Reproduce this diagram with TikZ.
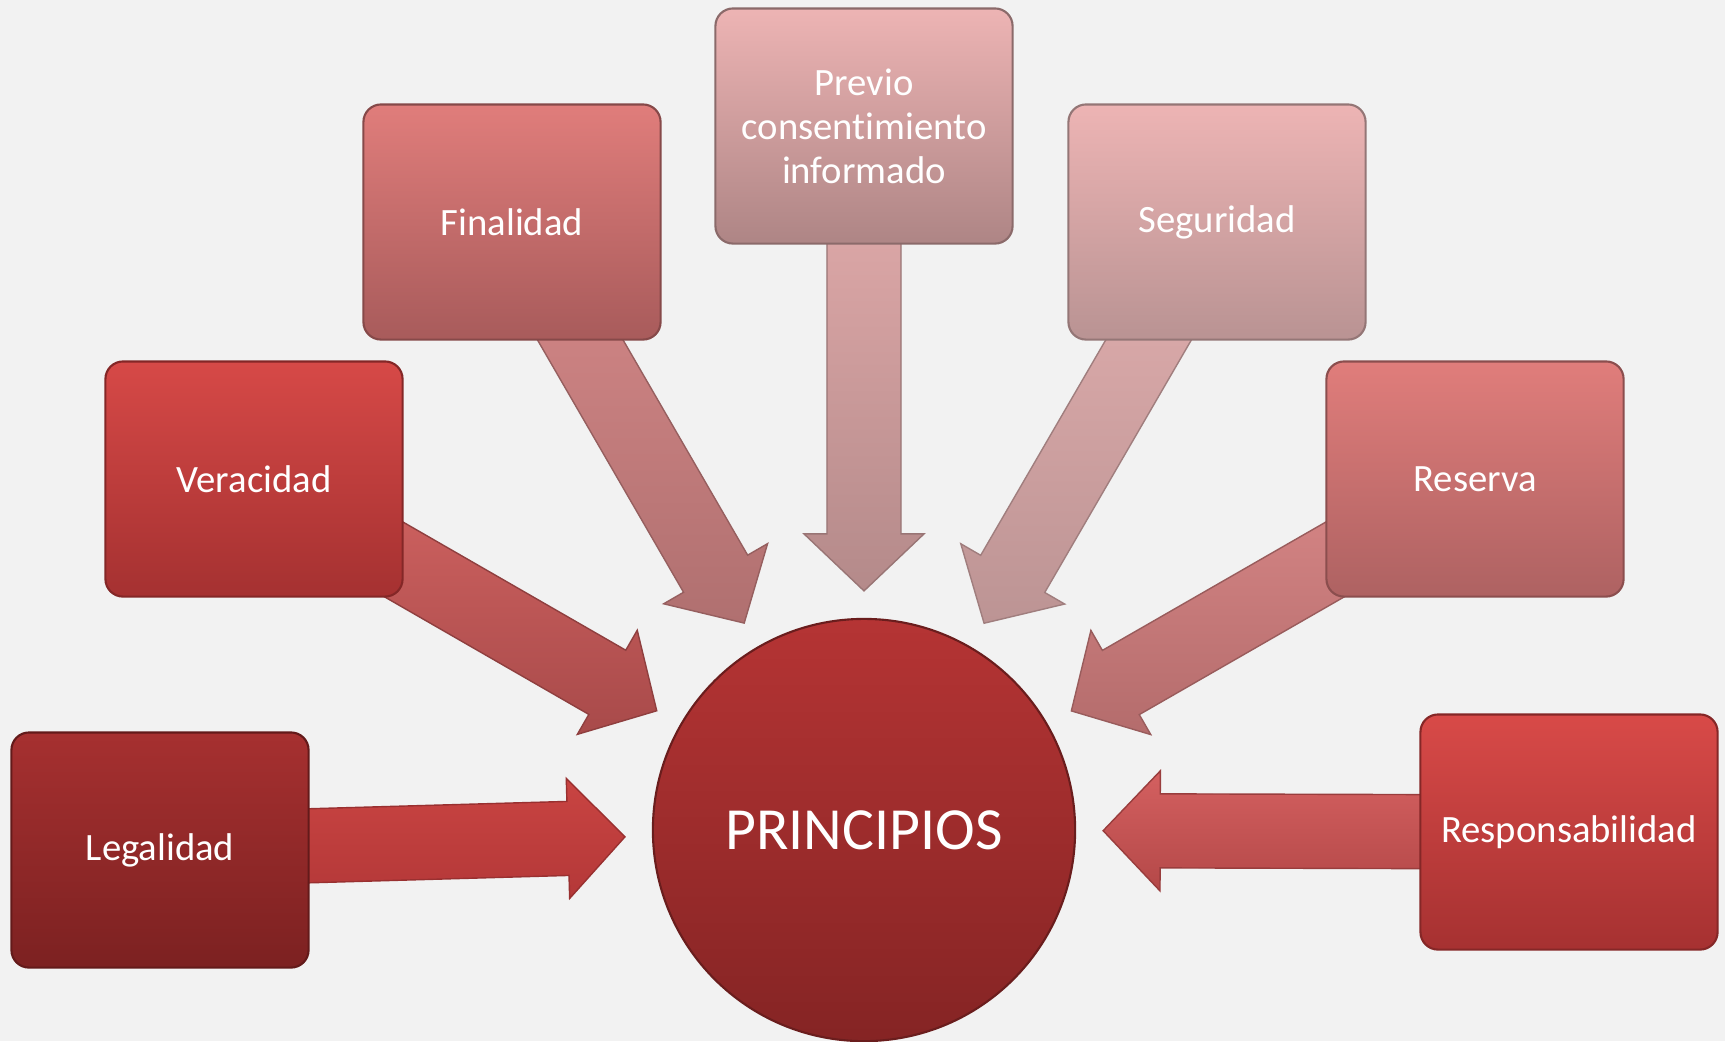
\documentclass[tikz,border=0pt]{standalone}
\usepackage{fontspec}
\setmainfont{Carlito}[Ligatures={NoCommon,NoContextual}]
\usepackage{tikz}
\usetikzlibrary{shapes,calc,backgrounds}
\usepackage{xcolor}
\definecolor{bggrey}{RGB}{242,242,242}
\definecolor{hubtop}{HTML}{B53434}
\definecolor{hubbot}{HTML}{852424}
% boxes
\definecolor{legtop}{HTML}{A63030}
\definecolor{legbot}{HTML}{7C2121}
\definecolor{vertop}{HTML}{D64947}
\definecolor{verbot}{HTML}{A53131}
\definecolor{fintop}{HTML}{E07D7B}
\definecolor{finbot}{HTML}{A85B5B}
\definecolor{prevtop}{HTML}{EDB4B4}
\definecolor{prevbot}{HTML}{AE8585}
\definecolor{segtop}{HTML}{EDB4B4}
\definecolor{segbot}{HTML}{B99393}
\definecolor{restop}{HTML}{E07D7B}
\definecolor{resbot}{HTML}{AE6262}
\definecolor{resptop}{HTML}{D84A48}
\definecolor{respbot}{HTML}{A63131}
% arrows
\definecolor{legatop}{HTML}{C94442}
\definecolor{legabot}{HTML}{B43838}
\definecolor{veratop}{HTML}{D66664}
\definecolor{verabot}{HTML}{A84A4A}
\definecolor{finatop}{HTML}{D88A8A}
\definecolor{finabot}{HTML}{B07070}
\definecolor{prevatop}{HTML}{E6AEAE}
\definecolor{prevabot}{HTML}{B48A8A}
\definecolor{segatop}{HTML}{E4B0B0}
\definecolor{segabot}{HTML}{BC9494}
\definecolor{resatop}{HTML}{DC8A8A}
\definecolor{resabot}{HTML}{B46C6C}
\definecolor{respatop}{HTML}{D46060}
\definecolor{respabot}{HTML}{B44848}

\begin{document}
\begin{tikzpicture}[x=0.01cm, y=-0.01cm,
    pbox/.style 2 args={rectangle, rounded corners=5pt, minimum width=2.97cm,
        minimum height=2.35cm, top color=#1, bottom color=#2, draw=#2!80!black,
        line width=0.6pt, text=white, align=center,
        font=\fontsize{11}{12.5}\selectfont},
    hub/.style={circle, minimum size=4.22cm, top color=hubtop, bottom color=hubbot,
        draw=hubbot!80!black, line width=0.6pt, text=white,
        font=\fontsize{17}{20}\selectfont},
    barrow/.style 2 args={top color=#1, bottom color=#2, draw=#2!85!black,
        line width=0.4pt}
]
    \useasboundingbox (0,0) rectangle (1725,1041);
    \begin{scope}[on background layer]
        \fill[bggrey] (0,0) rectangle (1725,1041);
    \end{scope}

    \node[hub] (prin) at (864,830) {PRINCIPIOS};
    \node[pbox={legtop}{legbot}] (leg) at (160,850) {Legalidad};
    \node[pbox={vertop}{verbot}] (ver) at (254,479) {Veracidad};
    \node[pbox={fintop}{finbot}] (fin) at (512,222) {Finalidad};
    \node[pbox={prevtop}{prevbot}] (prev) at (864,126) {Previo\\consentimiento\\informado};
    \node[pbox={segtop}{segbot}] (seg) at (1217,222) {Seguridad};
    \node[pbox={restop}{resbot}] (res) at (1475,479) {Reserva};
    \node[pbox={resptop}{respbot}] (resp) at (1569,832) {Responsabilidad};

    % block arrows, tucked under the boxes
    \begin{scope}[on background layer]
    \foreach \b in {leg,ver,fin,prev,seg,res,resp} {
        \coordinate (t) at ($(prin.center)!2.39cm!(\b.center)$);
        \coordinate (h) at ($(t)!0.57cm!(\b.center)$);
        \path[barrow={\b atop}{\b abot}]
            ($(\b.center)!0.37cm!90:(t)$) -- ($(h)!0.37cm!90:(t)$)
            -- ($(h)!0.6cm!90:(t)$) -- (t) -- ($(h)!0.6cm!-90:(t)$)
            -- ($(h)!0.37cm!-90:(t)$) -- ($(\b.center)!0.37cm!-90:(t)$) -- cycle;
    }
    \end{scope}
\end{tikzpicture}
\end{document}
